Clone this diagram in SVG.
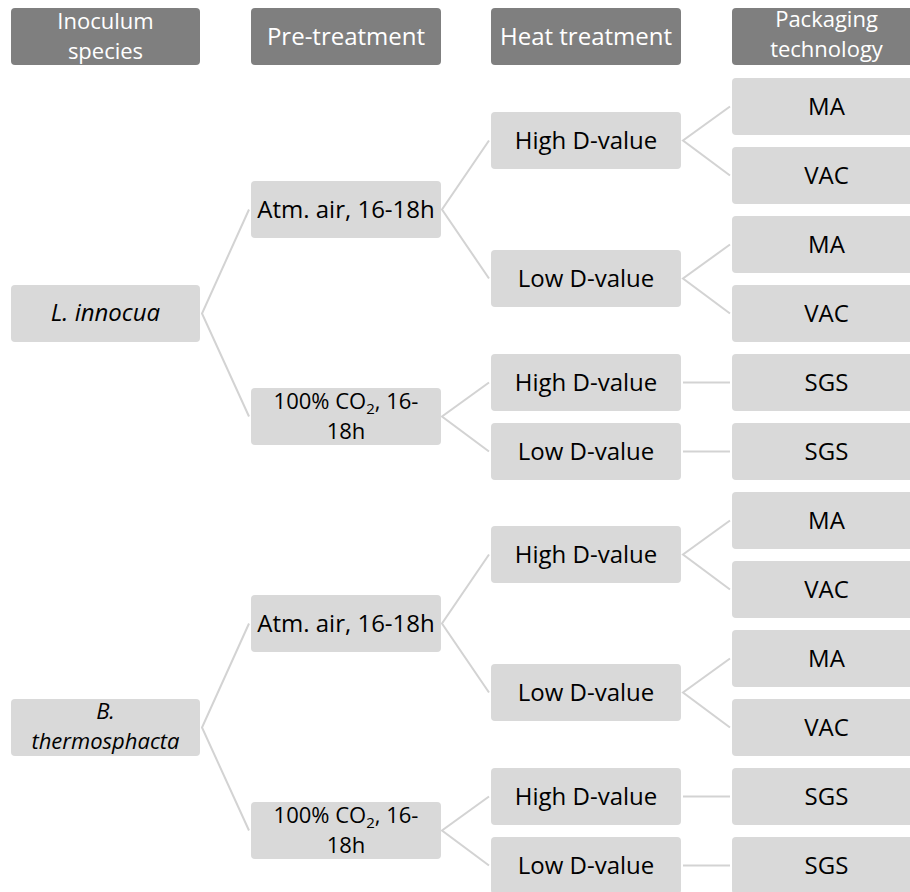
<svg xmlns="http://www.w3.org/2000/svg" width="910" height="892" viewBox="0 0 910 892">
<style>
.h{fill:#7f7f7f}
.n{fill:#d9d9d9}
.ht{font-family:"Open Sans","Noto Sans",sans-serif;font-size:24px;fill:#ffffff;text-anchor:middle}
.t{font-family:"Open Sans","Noto Sans",sans-serif;font-size:24px;fill:#000000;text-anchor:middle}
.two{font-size:22px}
.i{font-style:italic}
.c{fill:none;stroke:#d3d3d3;stroke-width:2}
</style>
<rect width="910" height="892" fill="#ffffff"/>
<g id="connectors">
<polyline class="c" points="249,209.5 202,313.5 249,416.5"/>
<polyline class="c" points="489,140.5 442,209.5 489,278.5"/>
<polyline class="c" points="489,382.5 442,416.5 489,451.5"/>
<polyline class="c" points="730,106.5 683,140.5 730,175.5"/>
<polyline class="c" points="730,244.5 683,278.5 730,313.5"/>
<line class="c" x1="683" y1="382.5" x2="730" y2="382.5"/>
<line class="c" x1="683" y1="451.5" x2="730" y2="451.5"/>
<polyline class="c" points="249,623.5 202,727.5 249,830.5"/>
<polyline class="c" points="489,554.5 442,623.5 489,692.5"/>
<polyline class="c" points="489,796.5 442,830.5 489,865.5"/>
<polyline class="c" points="730,520.5 683,554.5 730,589.5"/>
<polyline class="c" points="730,658.5 683,692.5 730,727.5"/>
<line class="c" x1="683" y1="796.5" x2="730" y2="796.5"/>
<line class="c" x1="683" y1="865.5" x2="730" y2="865.5"/>
</g>
<g id="hdr-inoculum"><rect class="h" x="11" y="8" width="189" height="57" rx="4"/><text class="ht two" x="105.5" y="29">Inoculum</text><text class="ht two" x="105.5" y="59">species</text></g>
<g id="hdr-pre"><rect class="h" x="251" y="8" width="190" height="57" rx="4"/><text class="ht" x="346" y="45">Pre-treatment</text></g>
<g id="hdr-heat"><rect class="h" x="491" y="8" width="190" height="57" rx="4"/><text class="ht" x="586" y="45">Heat treatment</text></g>
<g id="hdr-pack"><rect class="h" x="732" y="8" width="189" height="57" rx="4"/><text class="ht two" x="826.5" y="27">Packaging</text><text class="ht two" x="826.5" y="57">technology</text></g>

<g id="l-innocua"><rect class="n" x="11" y="285" width="189" height="57" rx="4"/><text class="t i" x="105.5" y="321">L. innocua</text></g>
<g id="l-atm"><rect class="n" x="251" y="181" width="190" height="57" rx="4"/><text class="t" x="346" y="218">Atm. air, 16-18h</text></g>
<g id="l-co2"><rect class="n" x="251" y="388" width="190" height="57" rx="4"/><text class="t two" x="346" y="409">100% CO<tspan font-size="15" dy="5">2</tspan><tspan dy="-5">, 16-</tspan></text><text class="t two" x="346" y="439">18h</text></g>
<g id="l-atm-high"><rect class="n" x="491" y="112" width="190" height="57" rx="4"/><text class="t" x="586" y="149">High D-value</text></g>
<g id="l-atm-low"><rect class="n" x="491" y="250" width="190" height="57" rx="4"/><text class="t" x="586" y="287">Low D-value</text></g>
<g id="l-co2-high"><rect class="n" x="491" y="354" width="190" height="57" rx="4"/><text class="t" x="586" y="391">High D-value</text></g>
<g id="l-co2-low"><rect class="n" x="491" y="423" width="190" height="57" rx="4"/><text class="t" x="586" y="460">Low D-value</text></g>
<g id="l-ma1"><rect class="n" x="732" y="78" width="189" height="57" rx="4"/><text class="t" x="826.5" y="115">MA</text></g>
<g id="l-vac1"><rect class="n" x="732" y="147" width="189" height="57" rx="4"/><text class="t" x="826.5" y="184">VAC</text></g>
<g id="l-ma2"><rect class="n" x="732" y="216" width="189" height="57" rx="4"/><text class="t" x="826.5" y="253">MA</text></g>
<g id="l-vac2"><rect class="n" x="732" y="285" width="189" height="57" rx="4"/><text class="t" x="826.5" y="322">VAC</text></g>
<g id="l-sgs1"><rect class="n" x="732" y="354" width="189" height="57" rx="4"/><text class="t" x="826.5" y="391">SGS</text></g>
<g id="l-sgs2"><rect class="n" x="732" y="423" width="189" height="57" rx="4"/><text class="t" x="826.5" y="460">SGS</text></g>

<g id="b-thermo"><rect class="n" x="11" y="699" width="189" height="57" rx="4"/><text class="t two i" x="105.5" y="719">B.</text><text class="t two i" x="105.5" y="749">thermosphacta</text></g>
<g id="b-atm"><rect class="n" x="251" y="595" width="190" height="57" rx="4"/><text class="t" x="346" y="632">Atm. air, 16-18h</text></g>
<g id="b-co2"><rect class="n" x="251" y="802" width="190" height="57" rx="4"/><text class="t two" x="346" y="823">100% CO<tspan font-size="15" dy="5">2</tspan><tspan dy="-5">, 16-</tspan></text><text class="t two" x="346" y="853">18h</text></g>
<g id="b-atm-high"><rect class="n" x="491" y="526" width="190" height="57" rx="4"/><text class="t" x="586" y="563">High D-value</text></g>
<g id="b-atm-low"><rect class="n" x="491" y="664" width="190" height="57" rx="4"/><text class="t" x="586" y="701">Low D-value</text></g>
<g id="b-co2-high"><rect class="n" x="491" y="768" width="190" height="57" rx="4"/><text class="t" x="586" y="805">High D-value</text></g>
<g id="b-co2-low"><rect class="n" x="491" y="837" width="190" height="57" rx="4"/><text class="t" x="586" y="874">Low D-value</text></g>
<g id="b-ma1"><rect class="n" x="732" y="492" width="189" height="57" rx="4"/><text class="t" x="826.5" y="529">MA</text></g>
<g id="b-vac1"><rect class="n" x="732" y="561" width="189" height="57" rx="4"/><text class="t" x="826.5" y="598">VAC</text></g>
<g id="b-ma2"><rect class="n" x="732" y="630" width="189" height="57" rx="4"/><text class="t" x="826.5" y="667">MA</text></g>
<g id="b-vac2"><rect class="n" x="732" y="699" width="189" height="57" rx="4"/><text class="t" x="826.5" y="736">VAC</text></g>
<g id="b-sgs1"><rect class="n" x="732" y="768" width="189" height="57" rx="4"/><text class="t" x="826.5" y="805">SGS</text></g>
<g id="b-sgs2"><rect class="n" x="732" y="837" width="189" height="57" rx="4"/><text class="t" x="826.5" y="874">SGS</text></g>
</svg>
